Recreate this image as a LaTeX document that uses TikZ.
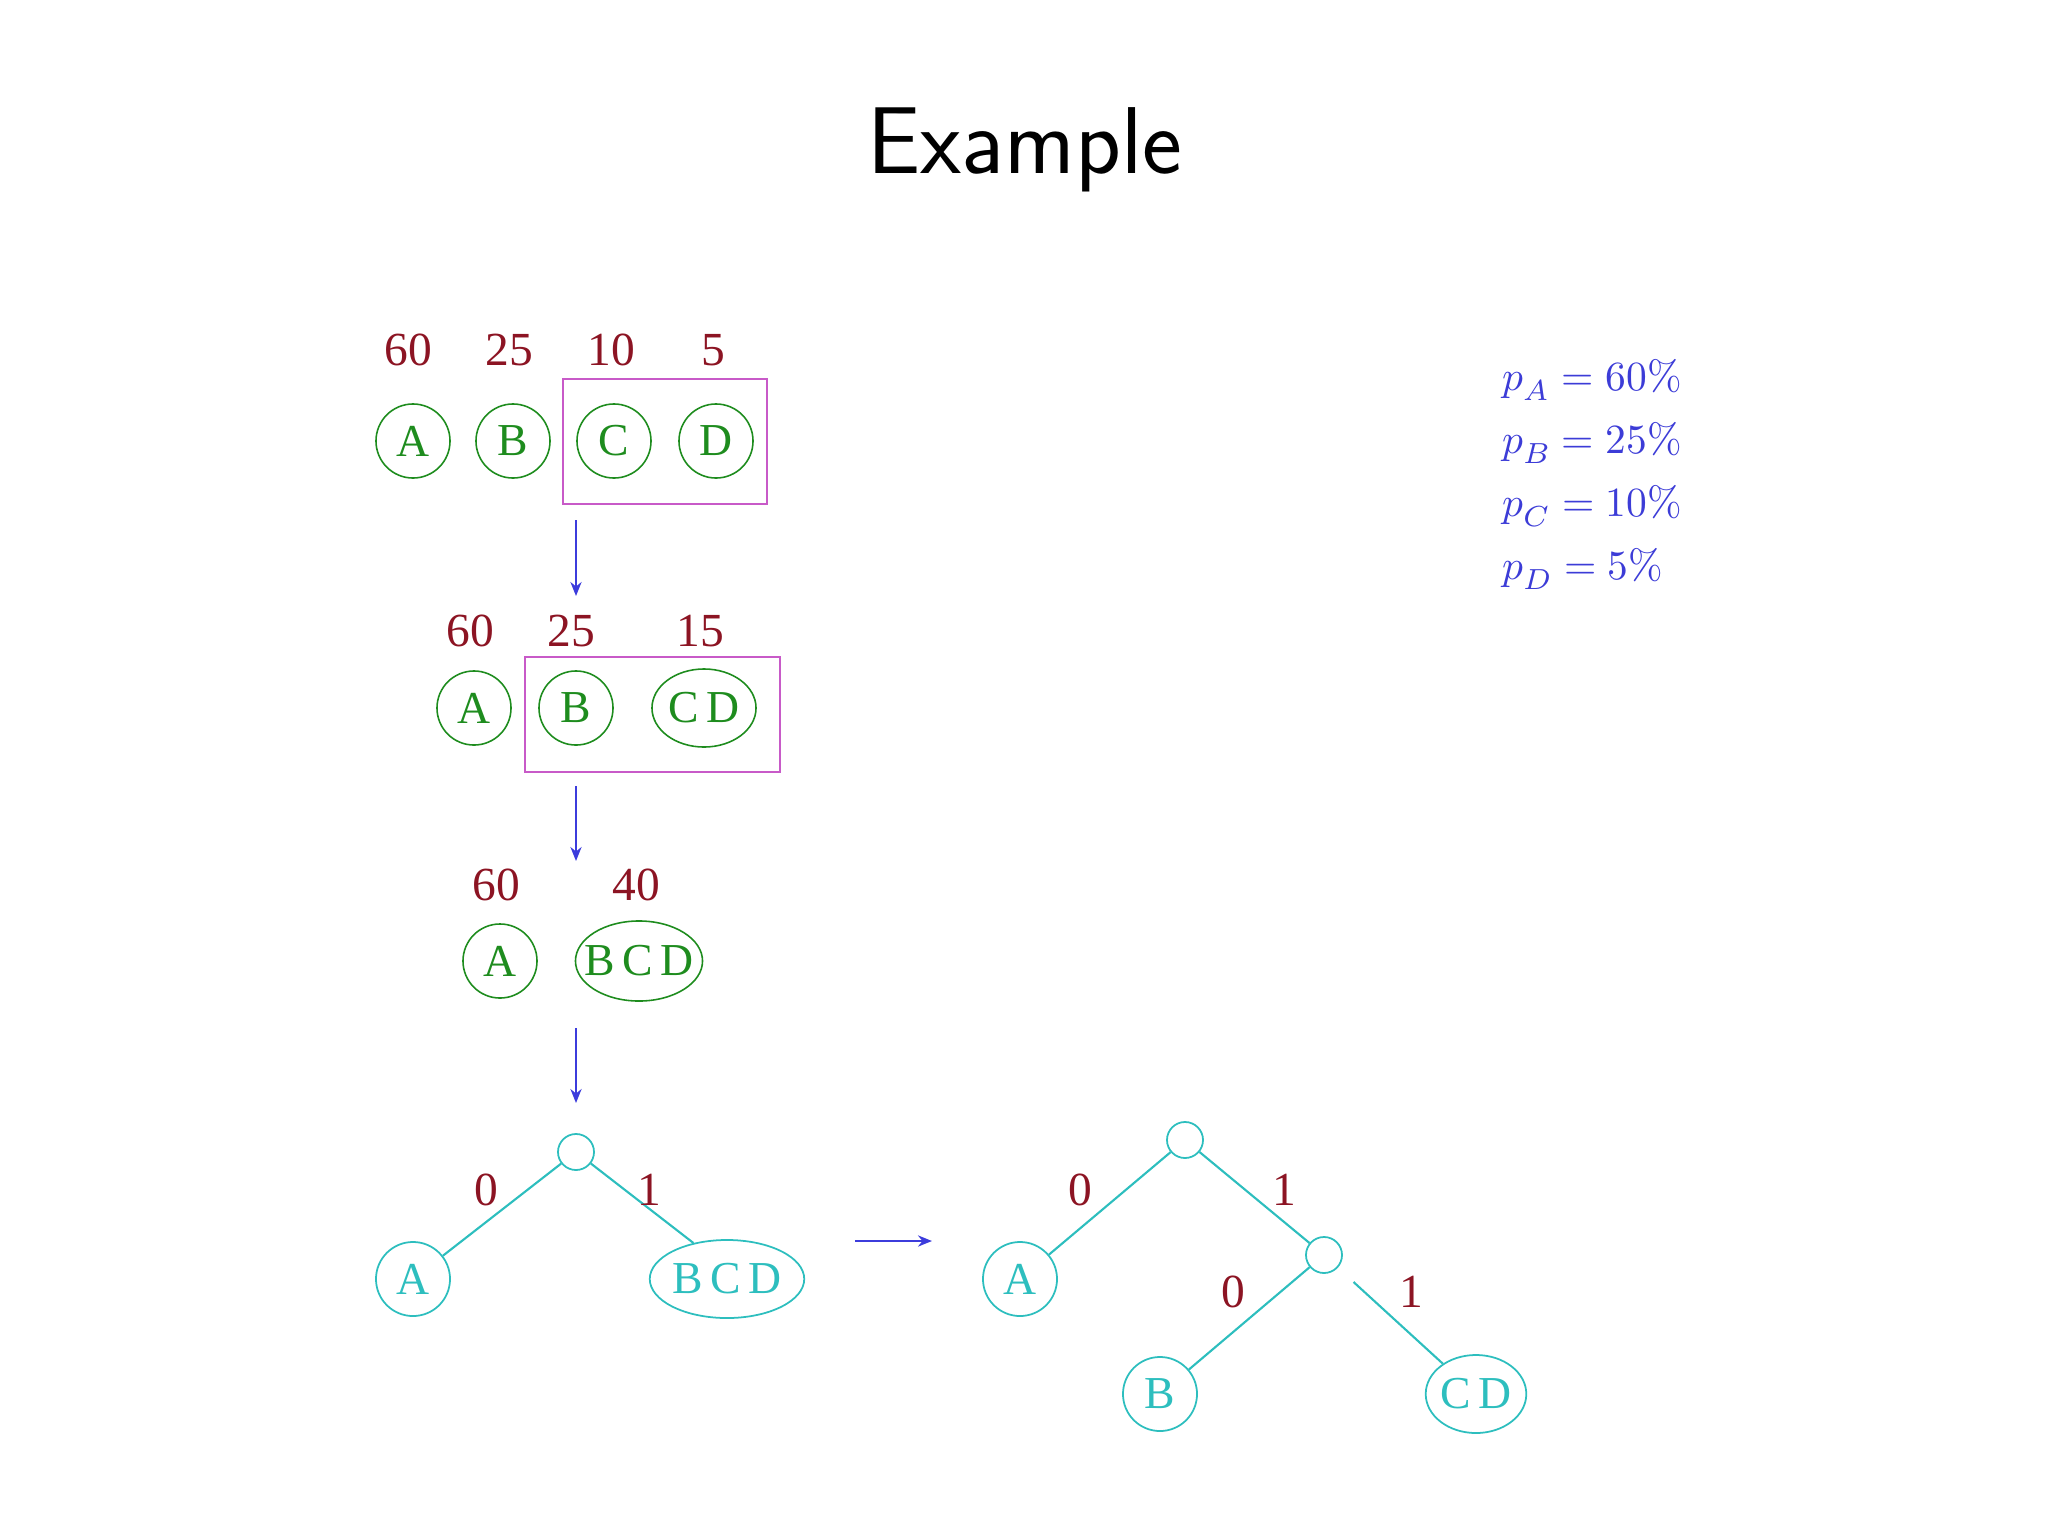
\documentclass[tikz,border=0pt]{standalone}
\usepackage{fontspec}
\setmainfont{Liberation Serif}
\setsansfont{Latin Modern Sans}
\usepackage{unicode-math}
\setmathfont{Latin Modern Math}
\usetikzlibrary{shapes.geometric,arrows.meta}
\definecolor{lblred}{RGB}{140,20,35}
\definecolor{grn}{RGB}{30,140,30}
\definecolor{mag}{RGB}{200,90,200}
\definecolor{arrblue}{RGB}{60,60,220}
\definecolor{cyn}{RGB}{45,190,190}
\definecolor{pblue}{RGB}{60,60,215}
\tikzset{
  lbl/.style={text=lblred,font=\fontsize{13.5}{15}\selectfont,inner sep=0},
  gc/.style={circle,draw=grn,text=grn,line width=0.45pt,minimum size=0.74cm,inner sep=0,font=\fontsize{13}{15}\selectfont},
  ge/.style={ellipse,draw=grn,text=grn,line width=0.45pt,inner sep=0,font=\fontsize{13}{15}\selectfont},
  cc/.style={circle,draw=cyn,text=cyn,line width=0.5pt,minimum size=0.74cm,inner sep=0,font=\fontsize{13}{15}\selectfont},
  ce/.style={ellipse,draw=cyn,text=cyn,line width=0.5pt,inner sep=0,font=\fontsize{13}{15}\selectfont},
  sc/.style={circle,draw=cyn,line width=0.5pt,minimum size=0.36cm,inner sep=0},
  edge/.style={draw=cyn,line width=0.6pt},
  mbox/.style={draw=mag,line width=0.5pt},
  darr/.style={draw=arrblue,line width=0.5pt,-{Stealth[length=4pt,width=3.2pt]}},
  prob/.style={text=pblue,font=\fontsize{11.8}{14}\selectfont,anchor=west,inner sep=0}
}
\begin{document}
\begin{tikzpicture}[x=0.01cm,y=-0.01cm]
\useasboundingbox (0,0) rectangle (2048,1536);
\node[font=\sffamily\fontsize{27}{30}\selectfont] (title) at (1025,150) {Example};

% row 1
\node[lbl] (l1a) at (408,350) {60};
\node[lbl] (l1b) at (509,350) {25};
\node[lbl] (l1c) at (611,350) {10};
\node[lbl] (l1d) at (713,350) {5};
\node[gc] (r1a) at (413,441) {A};
\node[gc] (r1b) at (513,441) {B};
\node[gc] (r1c) at (614,441) {C};
\node[gc] (r1d) at (716,441) {D};
\draw[mbox] (563,379) rectangle (767,504);
\coordinate (a1s) at (576,520);
\coordinate (a1e) at (576,596);
\draw[darr] (a1s) -- (a1e);

% row 2
\node[lbl] (l2a) at (470,631) {60};
\node[lbl] (l2b) at (571,631) {25};
\node[lbl] (l2c) at (700,631) {15};
\node[gc] (r2a) at (474,708) {A};
\node[gc] (r2b) at (576,708) {B};
\node[ge,minimum width=1.04cm,minimum height=0.78cm] (r2cd) at (704,708) {C\,D};
\draw[mbox] (525,657) rectangle (780,772);
\coordinate (a2s) at (576,786);
\coordinate (a2e) at (576,861);
\draw[darr] (a2s) -- (a2e);

% row 3
\node[lbl] (l3a) at (496,885) {60};
\node[lbl] (l3b) at (636,885) {40};
\node[gc] (r3a) at (500,961) {A};
\node[ge,inner xsep=-2.8pt,minimum width=1.27cm,minimum height=0.80cm] (r3bcd) at (639,961) {B\,C\,D};
\coordinate (a3s) at (576,1028);
\coordinate (a3e) at (576,1103);
\draw[darr] (a3s) -- (a3e);

% tree 1
\node[sc] (t1r) at (576,1152) {};
\node[cc] (t1a) at (413,1279) {A};
\node[ce,minimum width=1.52cm,minimum height=0.78cm] (t1bcd) at (727,1279) {B\,C\,D};
\draw[edge] (t1r) -- (t1a);
\draw[edge] (t1r) -- (t1bcd.133);
\node[lbl] (t1l0) at (486,1190) {0};
\node[lbl] (t1l1) at (649,1190) {1};

\coordinate (ha) at (855,1241);
\coordinate (hb) at (932,1241);
\draw[darr] (ha) -- (hb);

% tree 2
\node[sc] (t2r) at (1185,1140) {};
\node[cc] (t2a) at (1020,1279) {A};
\node[sc] (t2m) at (1324,1255) {};
\node[cc] (t2b) at (1160,1394) {B};
\node[ce,minimum width=1.0cm,minimum height=0.78cm] (t2cd) at (1476,1394) {C\,D};
\draw[edge] (t2r) -- (t2a);
\draw[edge] (t2r) -- (t2m);
\draw[edge] (t2m) -- (t2b);
\draw[edge,shorten <=6pt] (t2m) -- (t2cd);
\node[lbl] (t2l0) at (1080,1190) {0};
\node[lbl] (t2l1) at (1284,1190) {1};
\node[lbl] (t2l2) at (1233,1292) {0};
\node[lbl] (t2l3) at (1411,1292) {1};

% probabilities
\node[prob] (pa) at (1502,380) {$p_A = 60\%$};
\node[prob] (pb) at (1502,443) {$p_B = 25\%$};
\node[prob] (pc) at (1502,506) {$p_C = 10\%$};
\node[prob] (pd) at (1502,569) {$p_D = 5\%$};
\end{tikzpicture}
\end{document}
